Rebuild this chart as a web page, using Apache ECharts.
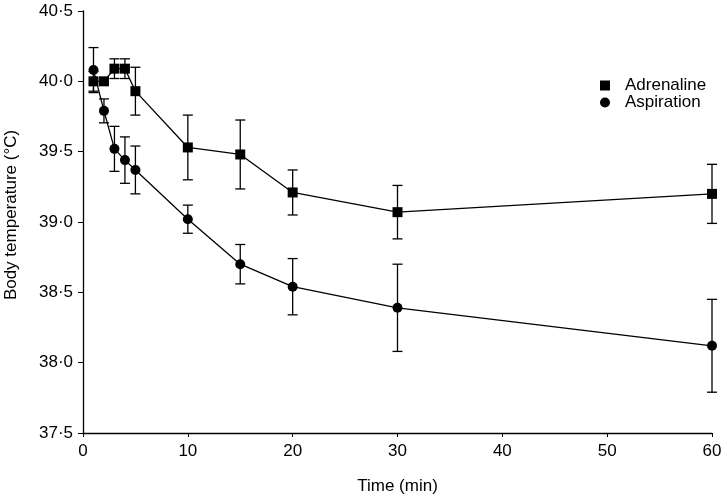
<!DOCTYPE html>
<html>
<head>
<meta charset="utf-8">
<script src="https://cdn.jsdelivr.net/npm/echarts@6/dist/echarts.min.js"></script>
<style>html,body{margin:0;padding:0;background:#fff}#c{width:725px;height:499px}</style>
</head>
<body>
<div id="c"></div>
<script>
var times = [1, 2, 3, 4, 5, 10, 15, 20, 30, 60];
var adrenalineMean = [40.00, 40.00, 40.09, 40.09, 39.93, 39.53, 39.48, 39.21, 39.07, 39.20];
var adrenalineErr  = [0.07, 0.02, 0.07, 0.07, 0.17, 0.23, 0.245, 0.16, 0.19, 0.21];
var aspirationMean = [40.08, 39.79, 39.52, 39.44, 39.37, 39.02, 38.70, 38.54, 38.39, 38.12];
var aspirationErr  = [0.16, 0.085, 0.16, 0.165, 0.17, 0.10, 0.14, 0.20, 0.31, 0.33];
var yTicks = [37.5, 38.0, 38.5, 39.0, 39.5, 40.0, 40.5];
var xTicks = [0, 10, 20, 30, 40, 50, 60];

var font = 'Liberation Sans, Arial, sans-serif';
function pts(m){ return times.map(function(t,i){ return [t, m[i]]; }); }
function errs(m,e){ return times.map(function(t,i){ return [t, m[i]-e[i], m[i]+e[i]]; }); }

function errRender(params, api){
  var x = api.value(0);
  var lo = api.coord([x, api.value(1)]);
  var hi = api.coord([x, api.value(2)]);
  var hw = 5;
  var st = {stroke:'#000', lineWidth:1.3};
  return {type:'group', children:[
    {type:'line', shape:{x1:lo[0],y1:lo[1],x2:hi[0],y2:hi[1]}, style:st},
    {type:'line', shape:{x1:lo[0]-hw,y1:lo[1],x2:lo[0]+hw,y2:lo[1]}, style:st},
    {type:'line', shape:{x1:hi[0]-hw,y1:hi[1],x2:hi[0]+hw,y2:hi[1]}, style:st}
  ]};
}

var chart = echarts.init(document.getElementById('c'), null, {renderer:'canvas'});
chart.setOption({
  animation:false,
  backgroundColor:'#fff',
  textStyle:{fontFamily:font},
  grid:{left:83, right:13, top:11, bottom:66, containLabel:false, outerBoundsMode:'none'},
  legend:{
    orient:'vertical', left:595, top:72, itemGap:0, itemWidth:10, itemHeight:10,
    textStyle:{fontSize:17, color:'#000', fontFamily:font, padding:[0,0,0,10]},
    data:[{name:'Adrenaline', icon:'rect'},{name:'Aspiration', icon:'circle'}]
  },
  xAxis:{
    type:'value', min:0, max:60, interval:10,
    name:'Time (min)', nameLocation:'middle', nameGap:45,
    nameTextStyle:{fontSize:17, color:'#000', fontFamily:font},
    axisLine:{lineStyle:{color:'#000', width:1.3}},
    axisTick:{inside:false, length:4, lineStyle:{color:'#000'}},
    axisLabel:{fontSize:17, color:'#000', margin:10, fontFamily:font,
      formatter:function(v){ return xTicks.indexOf(v)>=0 ? String(v) : ''; }},
    splitLine:{show:false}
  },
  yAxis:{
    type:'value', min:37.5, max:40.5, interval:0.5,
    name:'Body temperature (°C)', nameLocation:'middle', nameGap:63,
    nameTextStyle:{fontSize:17, color:'#000', fontFamily:font, padding:[0,0,0,14]},
    axisLine:{show:true, lineStyle:{color:'#000', width:1.3}},
    axisTick:{show:true, inside:false, length:5, lineStyle:{color:'#000'}},
    axisLabel:{fontSize:17, color:'#000', margin:10, fontFamily:font,
      formatter:function(v){
        var i = yTicks.indexOf(v);
        return i>=0 ? yTicks[i].toFixed(1).replace('.', '\u00b7') : '';
      }},
    splitLine:{show:false}
  },
  series:[
    {type:'custom', name:'AdrErr', renderItem:errRender, data:errs(adrenalineMean, adrenalineErr), z:1, silent:true},
    {type:'custom', name:'AspErr', renderItem:errRender, data:errs(aspirationMean, aspirationErr), z:1, silent:true},
    {type:'line', name:'Adrenaline', data:pts(adrenalineMean), symbol:'rect', symbolSize:10,
      lineStyle:{color:'#000', width:1.3}, itemStyle:{color:'#000'}, z:3},
    {type:'line', name:'Aspiration', data:pts(aspirationMean), symbol:'circle', symbolSize:10,
      lineStyle:{color:'#000', width:1.3}, itemStyle:{color:'#000'}, z:3}
  ]
});
</script>
</body>
</html>
